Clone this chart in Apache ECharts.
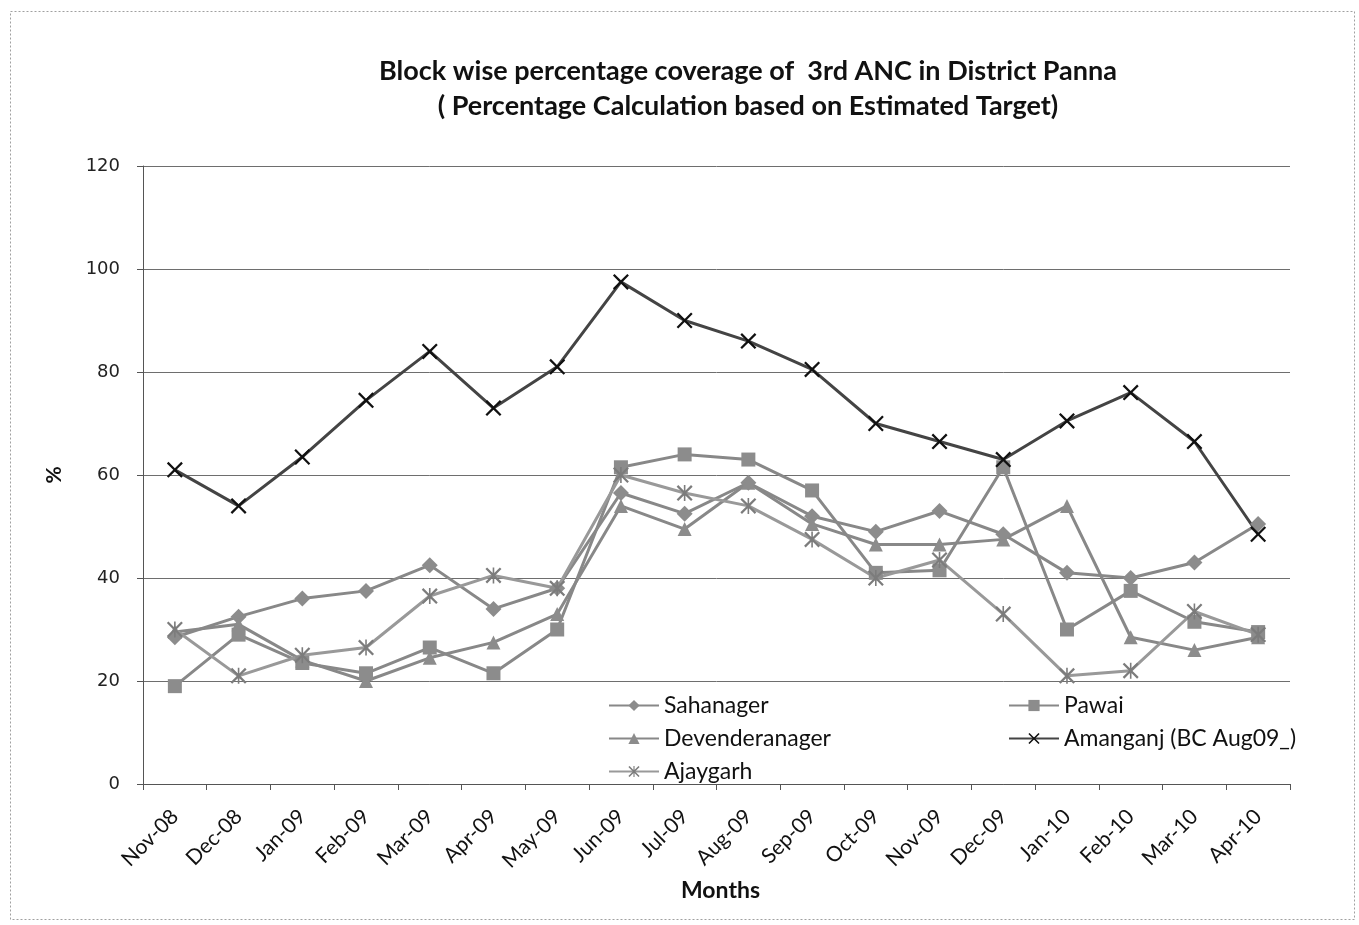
<!DOCTYPE html>
<html>
<head>
<meta charset="utf-8">
<script src="https://cdn.jsdelivr.net/npm/echarts@6/dist/echarts.min.js"></script>
<style>html,body{margin:0;padding:0;background:#fff;}#c{width:1359px;height:925px;}</style>
</head>
<body>
<div id="c"></div>
<script>
var months = ['Nov-08','Dec-08','Jan-09','Feb-09','Mar-09','Apr-09','May-09','Jun-09','Jul-09','Aug-09','Sep-09','Oct-09','Nov-09','Dec-09','Jan-10','Feb-10','Mar-10','Apr-10'];
var yTicks = [0, 20, 40, 60, 80, 100, 120];
var sahanager = [28.5, 32.5, 36, 37.5, 42.5, 34, 38, 56.5, 52.5, 58.5, 52, 49, 53, 48.5, 41, 40, 43, 50.5];
var pawai = [19, 29, 23.5, 21.5, 26.5, 21.5, 30, 61.5, 64, 63, 57, 41, 41.5, 61.5, 30, 37.5, 31.5, 29.5];
var devenderanager = [29.5, 31, 24, 20, 24.5, 27.5, 33, 54, 49.5, 58.5, 50.5, 46.5, 46.5, 47.5, 54, 28.5, 26, 28.5];
var amanganj = [61, 54, 63.5, 74.5, 84, 73, 81, 97.5, 90, 86, 80.5, 70, 66.5, 63, 70.5, 76, 66.5, 48.5];
var ajaygarh = [30, 21, 25, 26.5, 36.5, 40.5, 38, 60, 56.5, 54, 47.5, 40, 43.5, 33, 21, 22, 33.5, 29];
var seriesNames = ['Sahanager', 'Pawai', 'Devenderanager', 'Amanganj (BC Aug09_)', 'Ajaygarh'];

var X_PATH = 'path://M0,1 L1,0 L5,4 L9,0 L10,1 L6,5 L10,9 L9,10 L5,6 L1,10 L0,9 L4,5 Z';
var STAR_PATH = 'path://M0,1 L1,0 L5,4 L9,0 L10,1 L6,5 L10,9 L9,10 L5,6 L1,10 L0,9 L4,5 Z M4.5,0 L5.5,0 L5.5,10 L4.5,10 Z';
var grayLine = '#888888';
var FONT = 'Lato';

function mk(name, data, symbol, size, lineColor, markColor) {
  return {
    name: name, type: 'line', data: data,
    symbol: symbol, symbolSize: size, showAllSymbol: true,
    lineStyle: { color: lineColor, width: 3 },
    itemStyle: { color: markColor, borderColor: markColor, borderWidth: 0 },
    emphasis: { disabled: true },
    animation: false
  };
}

var chart = echarts.init(document.getElementById('c'));
function legendAt(name, left, top) {
  return {
    data: [name], left: left, top: top, itemWidth: 50, itemHeight: 14, itemGap: 0,
    textStyle: { fontFamily: FONT, fontSize: 23, color: '#111' }, selectedMode: false
  };
}
chart.setOption({
  backgroundColor: '#fff',
  animation: false,
  title: {
    text: 'Block wise percentage coverage of  3rd ANC in District Panna\n( Percentage Calculation based on Estimated Target)',
    left: 743, top: 49, textAlign: 'center',
    textStyle: { fontFamily: FONT, fontWeight: 'bold', fontSize: 27, lineHeight: 35, color: '#111' }
  },
  legend: [
    legendAt(seriesNames[0], 603, 689),
    legendAt(seriesNames[1], 1003, 689),
    legendAt(seriesNames[2], 603, 722),
    legendAt(seriesNames[3], 1003, 722),
    legendAt(seriesNames[4], 603, 755)
  ],
  grid: { left: 143, right: 69, top: 166, bottom: 141, containLabel: false },
  xAxis: {
    type: 'category', data: months, boundaryGap: true,
    name: 'Months', nameLocation: 'middle', nameGap: 90,
    nameTextStyle: { fontFamily: FONT, fontWeight: 'bold', fontSize: 23, color: '#111', padding: [0, 0, 0, 8] },
    axisLine: { lineStyle: { color: '#555', width: 1 } },
    axisTick: { show: true, inside: false, length: 6, alignWithLabel: false, lineStyle: { color: '#555' } },
    axisLabel: { rotate: 45, interval: 0, margin: 29, fontFamily: FONT, fontSize: 21, color: '#111' },
    splitLine: { show: false }
  },
  yAxis: {
    type: 'value', min: 0, max: 120, interval: 20,
    name: '%', nameLocation: 'middle', nameGap: 78, nameRotate: 90,
    nameTextStyle: { fontFamily: FONT, fontWeight: 'bold', fontSize: 21, color: '#111' },
    axisLine: { show: true, lineStyle: { color: '#555', width: 1 } },
    axisTick: { show: true, inside: false, length: 6, lineStyle: { color: '#555' } },
    axisLabel: {
      margin: 23, fontFamily: 'DejaVu Sans', fontSize: 18, color: '#222',
      formatter: function (v) { return yTicks.indexOf(v) >= 0 ? String(v) : ''; }
    },
    splitLine: { show: true, lineStyle: { color: '#6e6e6e', width: 1 } }
  },
  graphic: [{
    type: 'rect', left: 8, top: 9, silent: true,
    shape: { width: 1344, height: 908 },
    style: { fill: 'none', stroke: '#a0a0a0', lineWidth: 1, lineDash: [2, 2] }
  }],
  series: [
    mk(seriesNames[0], sahanager, 'diamond', 16, grayLine, '#8c8c8c'),
    mk(seriesNames[1], pawai, 'rect', 14, grayLine, '#8c8c8c'),
    mk(seriesNames[2], devenderanager, 'triangle', 14, grayLine, '#8c8c8c'),
    mk(seriesNames[3], amanganj, X_PATH, 16, '#444444', '#111111'),
    mk(seriesNames[4], ajaygarh, STAR_PATH, 16, '#999999', '#7c7c7c')
  ]
});
</script>
</body>
</html>
